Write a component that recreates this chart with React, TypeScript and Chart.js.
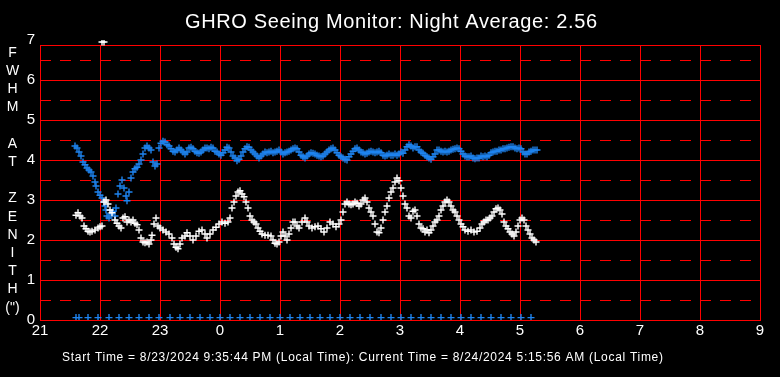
import React, { useEffect, useRef } from "react";
import { Chart, registerables } from "chart.js";

Chart.register(...registerables);

const FONT = "'Liberation Sans', Arial, Helvetica, sans-serif";

const TITLE = "GHRO Seeing Monitor: Night Average: 2.56";
const FOOTER =
  "Start Time = 8/23/2024 9:35:44 PM (Local Time): Current Time = 8/24/2024 5:15:56 AM (Local Time)";
const Y_TITLE_LETTERS = ["F", "W", "H", "M", "", "A", "T", "", "Z", "E", "N", "I", "T", "H", "(\")"];

// x axis: minutes after 21:00 local time
const X_TICK_MINUTES = [0, 60, 120, 180, 240, 300, 360, 420, 480, 540, 600, 660, 720];
const X_TICK_LABELS = ["21", "22", "23", "0", "1", "2", "3", "4", "5", "6", "7", "8", "9"];
const Y_TICKS = [0, 1, 2, 3, 4, 5, 6, 7];
const Y_SOLID_LINES = [1, 2, 3, 4, 5, 6];
const Y_DASHED_LINES = [0.5, 1.5, 2.5, 3.5, 4.5, 5.5, 6.5];
const Y_FRAME_TOP = 6.875;

// [minute after 21:00, FWHM arcsec]
const whiteSeries: [number, number][] = [
  [36, 2.62], [38, 2.68], [40, 2.6], [42, 2.55], [44, 2.35], [46, 2.28], [48, 2.22], [50, 2.2],
  [52, 2.22], [55, 2.25], [58, 2.3], [60, 2.33], [62, 2.35], [62, 6.95], [64, 6.95], [64, 2.95],
  [66, 3.0], [68, 2.9], [70, 2.75], [72, 2.68], [75, 2.5], [77, 2.42], [79, 2.35], [81, 2.3],
  [83, 2.55], [85, 2.58], [87, 2.45], [89, 2.5], [91, 2.45], [93, 2.5], [95, 2.42], [97, 2.38],
  [99, 2.25], [101, 2.05], [103, 1.95], [105, 1.93], [107, 1.95], [109, 1.9], [111, 2.0], [112, 2.12],
  [114, 2.4], [116, 2.55], [118, 2.35], [120, 2.3], [123, 2.25], [126, 2.2], [129, 2.15], [132, 2.05],
  [134, 1.9], [136, 1.82], [138, 1.78], [140, 1.9], [142, 2.05], [145, 2.1], [147, 2.18], [150, 2.1],
  [153, 2.0], [156, 2.1], [159, 2.22], [162, 2.25], [165, 2.15], [167, 2.05], [170, 2.15], [173, 2.25],
  [176, 2.32], [179, 2.4], [182, 2.45], [185, 2.42], [188, 2.45], [190, 2.55], [192, 2.8], [194, 2.95],
  [196, 3.1], [198, 3.2], [200, 3.23], [202, 3.15], [204, 3.08], [206, 2.95], [208, 2.8], [210, 2.6],
  [212, 2.5], [214, 2.45], [216, 2.4], [218, 2.3], [220, 2.22], [222, 2.15], [225, 2.12], [228, 2.12],
  [231, 2.1], [233, 2.0], [235, 1.92], [237, 1.9], [239, 1.95], [241, 2.1], [243, 2.2], [245, 2.1],
  [247, 2.0], [249, 2.15], [251, 2.3], [253, 2.45], [255, 2.45], [257, 2.35], [259, 2.3], [262, 2.45],
  [265, 2.55], [267, 2.45], [269, 2.35], [272, 2.3], [275, 2.33], [278, 2.35], [281, 2.28], [284, 2.2],
  [287, 2.3], [290, 2.45], [293, 2.4], [296, 2.33], [299, 2.4], [301, 2.5], [303, 2.7], [305, 2.9],
  [307, 2.95], [309, 2.9], [311, 2.88], [313, 2.9], [315, 2.95], [317, 2.92], [319, 2.85], [321, 2.9],
  [323, 3.0], [325, 3.05], [327, 2.95], [329, 2.8], [331, 2.7], [333, 2.6], [335, 2.4], [337, 2.2],
  [339, 2.18], [341, 2.3], [343, 2.5], [345, 2.7], [347, 2.85], [349, 3.05], [351, 3.2], [353, 3.3],
  [355, 3.45], [357, 3.55], [359, 3.48], [361, 3.3], [363, 3.1], [365, 2.9], [367, 2.8], [369, 2.6],
  [371, 2.55], [373, 2.72], [375, 2.75], [377, 2.6], [379, 2.4], [381, 2.3], [383, 2.28], [385, 2.2],
  [387, 2.25], [389, 2.18], [391, 2.25], [393, 2.35], [395, 2.45], [397, 2.5], [399, 2.6], [401, 2.75],
  [403, 2.85], [405, 2.95], [407, 3.0], [409, 2.95], [411, 2.85], [413, 2.75], [415, 2.7], [417, 2.6],
  [419, 2.5], [421, 2.4], [423, 2.33], [425, 2.25], [428, 2.22], [431, 2.25], [434, 2.2], [437, 2.22],
  [440, 2.3], [442, 2.4], [444, 2.45], [446, 2.5], [448, 2.5], [450, 2.55], [452, 2.6], [454, 2.7],
  [456, 2.78], [458, 2.8], [460, 2.75], [462, 2.65], [464, 2.45], [466, 2.35], [468, 2.28], [470, 2.2],
  [472, 2.15], [474, 2.1], [476, 2.2], [478, 2.35], [480, 2.5], [482, 2.55], [484, 2.5], [486, 2.35],
  [488, 2.25], [490, 2.15], [492, 2.05], [494, 2.0], [496, 1.95],
];

const blueSeries: [number, number][] = [
  [35, 4.35], [37, 4.3], [39, 4.2], [41, 4.1], [43, 3.95], [45, 3.88], [47, 3.8], [49, 3.75],
  [51, 3.7], [53, 3.6], [55, 3.45], [56, 3.35], [58, 3.2], [60, 3.12], [62, 3.05], [64, 2.95],
  [65, 2.85], [66, 2.75], [67, 2.6], [69, 2.55], [71, 2.65], [73, 2.72], [75, 2.6], [76, 2.8],
  [78, 3.15], [80, 3.35], [82, 3.5], [84, 3.3], [86, 3.1], [87, 2.98], [89, 3.2], [91, 3.55],
  [93, 3.7], [95, 3.78], [97, 3.82], [99, 3.9], [101, 4.0], [103, 4.15], [105, 4.3], [107, 4.35],
  [109, 4.3], [111, 4.25], [113, 3.95], [115, 3.85], [117, 3.9], [119, 4.3], [121, 4.42], [123, 4.47],
  [125, 4.45], [127, 4.38], [129, 4.35], [131, 4.28], [133, 4.22], [135, 4.2], [137, 4.25], [139, 4.3],
  [141, 4.25], [143, 4.2], [145, 4.15], [147, 4.2], [149, 4.3], [151, 4.32], [153, 4.28], [155, 4.22],
  [157, 4.18], [159, 4.17], [161, 4.2], [163, 4.25], [165, 4.3], [167, 4.3], [169, 4.28], [171, 4.32],
  [173, 4.3], [175, 4.22], [177, 4.2], [179, 4.15], [181, 4.12], [183, 4.18], [185, 4.25], [187, 4.32],
  [189, 4.3], [191, 4.2], [193, 4.1], [195, 4.05], [197, 3.98], [199, 4.02], [201, 4.1], [203, 4.2],
  [205, 4.28], [207, 4.33], [209, 4.32], [211, 4.25], [213, 4.2], [215, 4.15], [217, 4.1], [219, 4.05],
  [221, 4.1], [223, 4.15], [225, 4.2], [227, 4.18], [229, 4.2], [231, 4.22], [233, 4.18], [235, 4.2],
  [237, 4.22], [239, 4.25], [241, 4.2], [243, 4.15], [245, 4.18], [247, 4.2], [249, 4.22], [251, 4.25],
  [253, 4.28], [255, 4.3], [257, 4.28], [259, 4.2], [261, 4.12], [263, 4.08], [265, 4.05], [267, 4.1],
  [269, 4.15], [271, 4.18], [273, 4.17], [275, 4.15], [277, 4.12], [279, 4.1], [281, 4.08], [283, 4.1],
  [285, 4.15], [287, 4.2], [289, 4.25], [291, 4.28], [293, 4.3], [295, 4.25], [297, 4.18], [299, 4.12],
  [301, 4.08], [303, 4.05], [305, 4.02], [307, 4.0], [309, 4.08], [311, 4.15], [313, 4.22], [315, 4.28],
  [317, 4.3], [319, 4.25], [321, 4.2], [323, 4.18], [325, 4.15], [327, 4.17], [329, 4.2], [331, 4.22],
  [333, 4.2], [335, 4.18], [337, 4.2], [339, 4.22], [341, 4.18], [343, 4.12], [345, 4.1], [347, 4.12],
  [349, 4.15], [351, 4.12], [353, 4.12], [355, 4.15], [357, 4.12], [359, 4.15], [361, 4.2], [363, 4.17],
  [365, 4.25], [367, 4.33], [369, 4.38], [371, 4.35], [373, 4.3], [375, 4.33], [377, 4.33], [379, 4.25],
  [381, 4.2], [383, 4.17], [385, 4.12], [387, 4.08], [389, 4.05], [391, 4.02], [393, 4.08], [395, 4.15],
  [397, 4.25], [399, 4.25], [401, 4.22], [403, 4.2], [405, 4.22], [407, 4.2], [409, 4.22], [411, 4.25],
  [413, 4.27], [415, 4.28], [417, 4.3], [419, 4.28], [421, 4.22], [423, 4.15], [425, 4.1], [427, 4.08],
  [429, 4.08], [431, 4.1], [433, 4.05], [435, 4.03], [437, 4.05], [439, 4.05], [441, 4.1], [443, 4.08],
  [445, 4.1], [447, 4.08], [449, 4.12], [451, 4.18], [453, 4.2], [455, 4.22], [457, 4.22], [459, 4.25],
  [461, 4.25], [463, 4.28], [465, 4.28], [467, 4.3], [469, 4.32], [471, 4.33], [473, 4.33], [475, 4.3],
  [477, 4.28], [479, 4.3], [481, 4.28], [483, 4.2], [485, 4.15], [487, 4.15], [489, 4.2], [491, 4.22],
  [493, 4.25], [495, 4.25], [497, 4.25],
];

const blueBaseline: [number, number][] = [
  [36, 0.06], [39, 0.06], [48, 0.06], [58, 0.06], [69, 0.06], [79, 0.06], [89, 0.06], [99, 0.06],
  [109, 0.06], [119, 0.06], [130, 0.06], [140, 0.06], [150, 0.06], [160, 0.06], [170, 0.06], [180, 0.06],
  [190, 0.06], [200, 0.06], [210, 0.06], [220, 0.06], [230, 0.06], [240, 0.06], [250, 0.06], [260, 0.06],
  [270, 0.06], [280, 0.06], [290, 0.06], [300, 0.06], [310, 0.06], [320, 0.06], [330, 0.06], [341, 0.06],
  [351, 0.06], [361, 0.06], [371, 0.06], [381, 0.06], [391, 0.06], [401, 0.06], [411, 0.06], [421, 0.06],
  [431, 0.06], [441, 0.06], [451, 0.06], [461, 0.06], [471, 0.06], [481, 0.06], [491, 0.06],
];

const RED = "#ff0000";
const BLUE = "#1e84f0";
const WHITE = "#ffffff";

function drawFitted(ctx: CanvasRenderingContext2D, text: string, x: number, y: number, width: number) {
  const natural = ctx.measureText(text).width;
  const c: any = ctx;
  if (natural < width && "letterSpacing" in c) {
    c.letterSpacing = `${(width - natural) / Math.max(1, text.length - 1)}px`;
    ctx.fillText(text, x, y);
    c.letterSpacing = "0px";
  } else {
    ctx.fillText(text, x, y, width);
  }
}

const framePlugin = {
  id: "ghroFrame",
  beforeDatasetsDraw(chart: any) {
    const { ctx, chartArea, scales } = chart;
    const x = scales.x;
    const y = scales.y;
    const left = Math.round(chartArea.left);
    const right = Math.round(chartArea.right);
    const bottom = Math.round(y.getPixelForValue(0));
    const top = Math.round(y.getPixelForValue(Y_FRAME_TOP));
    ctx.save();
    ctx.strokeStyle = RED;
    ctx.lineWidth = 1;
    ctx.setLineDash([11, 9]);
    for (const v of Y_DASHED_LINES) {
      const py = Math.round(y.getPixelForValue(v)) + 0.5;
      ctx.beginPath();
      ctx.moveTo(left, py);
      ctx.lineTo(right, py);
      ctx.stroke();
    }
    ctx.setLineDash([]);
    for (const v of Y_SOLID_LINES) {
      const py = Math.round(y.getPixelForValue(v)) + 0.5;
      ctx.beginPath();
      ctx.moveTo(left, py);
      ctx.lineTo(right, py);
      ctx.stroke();
    }
    for (const m of X_TICK_MINUTES) {
      const px = Math.round(x.getPixelForValue(m)) + 0.5;
      ctx.beginPath();
      ctx.moveTo(px, top);
      ctx.lineTo(px, bottom + 1);
      ctx.stroke();
    }
    ctx.beginPath();
    ctx.moveTo(left, top + 0.5);
    ctx.lineTo(right + 1, top + 0.5);
    ctx.moveTo(left, bottom + 0.5);
    ctx.lineTo(right + 1, bottom + 0.5);
    ctx.stroke();
    ctx.restore();
  },
  afterDraw(chart: any) {
    const { ctx } = chart;
    ctx.save();
    ctx.fillStyle = WHITE;
    ctx.textBaseline = "alphabetic";
    ctx.textAlign = "left";
    ctx.font = `20px ${FONT}`;
    drawFitted(ctx, TITLE, 185, 28, 412);
    ctx.font = `12px ${FONT}`;
    drawFitted(ctx, FOOTER, 62, 361, 601);
    ctx.font = `14px ${FONT}`;
    ctx.textAlign = "center";
    ctx.textBaseline = "middle";
    Y_TITLE_LETTERS.forEach((ch, i) => {
      if (ch) ctx.fillText(ch, 12.5, 53 + i * 18.2);
    });
    ctx.restore();
  },
};

const POINT_STYLE = {
  pointStyle: "cross" as const,
  pointRadius: 3.5,
  pointBorderWidth: 1.4,
  showLine: false,
};

export default function App() {
  const ref = useRef<HTMLCanvasElement>(null);
  useEffect(() => {
    document.body.style.margin = "0";
    document.body.style.background = "#000";
    const canvas = ref.current!;
    const toPoints = (s: [number, number][]) => s.map(([m, v]) => ({ x: m, y: v }));
    const chart = new Chart(canvas, {
      type: "scatter",
      data: {
        datasets: [
          {
            label: "FWHM",
            data: toPoints(whiteSeries),
            ...POINT_STYLE,
            borderColor: WHITE,
            backgroundColor: WHITE,
          },
          {
            label: "Zenith",
            data: toPoints(blueSeries),
            ...POINT_STYLE,
            borderColor: BLUE,
            backgroundColor: BLUE,
          },
          {
            label: "Baseline",
            data: toPoints(blueBaseline),
            ...POINT_STYLE,
            borderColor: BLUE,
            backgroundColor: BLUE,
          },
        ],
      },
      options: {
        animation: false,
        responsive: true,
        maintainAspectRatio: false,
        devicePixelRatio: 1,
        events: [],
        layout: { padding: { left: 0, right: 20, top: 40, bottom: 0 } },
        plugins: {
          legend: { display: false },
          title: { display: false },
          tooltip: { enabled: false },
        },
        scales: {
          x: {
            type: "linear",
            min: 0,
            max: 720,
            grid: { display: false, drawTicks: false },
            border: { display: false },
            afterFit(s: any) {
              s.height = 57;
            },
            afterBuildTicks(s: any) {
              s.ticks = X_TICK_MINUTES.map((v) => ({ value: v }));
            },
            ticks: {
              autoSkip: false,
              maxRotation: 0,
              color: WHITE,
              padding: 2,
              font: { family: FONT, size: 15 },
              callback: (_v: any, i: number) => X_TICK_LABELS[i],
            },
          },
          y: {
            type: "linear",
            min: 0,
            max: 7,
            grid: { display: false, drawTicks: false },
            border: { display: false },
            afterFit(s: any) {
              s.width = 40;
            },
            afterBuildTicks(s: any) {
              s.ticks = Y_TICKS.map((v) => ({ value: v }));
            },
            ticks: {
              color: WHITE,
              padding: 5,
              font: { family: FONT, size: 15 },
            },
          },
        },
      },
      plugins: [framePlugin],
    });
    return () => chart.destroy();
  }, []);
  return (
    <div style={{ position: "fixed", left: 0, top: 0, width: 780, height: 377, background: "#000" }}>
      <canvas ref={ref} />
    </div>
  );
}
